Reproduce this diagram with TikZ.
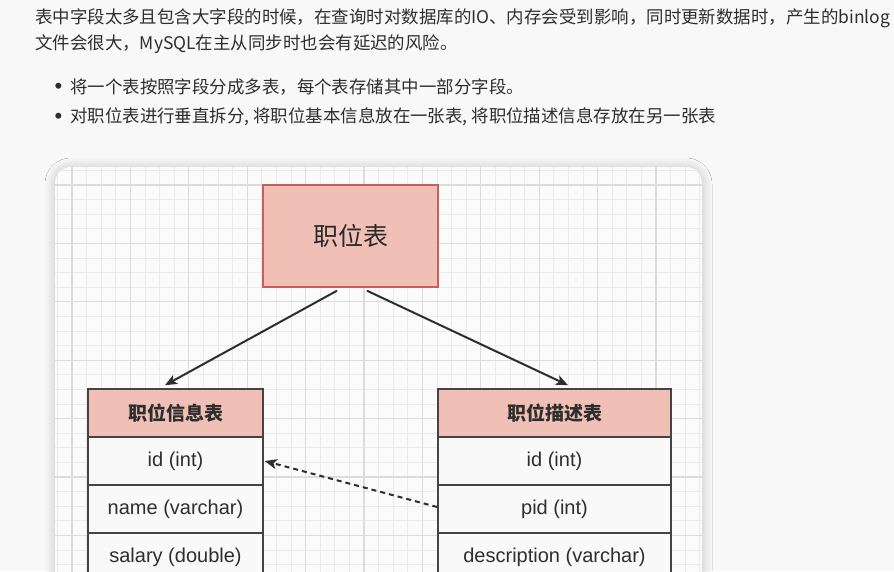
\documentclass[tikz,border=0pt]{standalone}
\usepackage{fontspec}
\setmainfont{Liberation Sans}
\newfontfamily\cjk{Noto Sans CJK SC}
\usetikzlibrary{shadows.blur,arrows.meta}
\definecolor{pagebg}{HTML}{F8F8F8}
\definecolor{panelbg}{HTML}{FBFBFB}
\definecolor{txt}{HTML}{2E2E2E}
\definecolor{pinkfill}{HTML}{F0C0B7}
\definecolor{pinkline}{HTML}{C8605A}
\definecolor{tblline}{HTML}{444444}
\definecolor{rowfill}{HTML}{F9F9F9}
\definecolor{gridminor}{HTML}{EBEBEB}
\definecolor{gridmajor}{HTML}{DCDCDC}
\tikzset{
  bodytext/.style={anchor=west, inner sep=0pt, text=txt, font=\cjk\fontsize{17.45}{20}\selectfont},
  bullettext/.style={anchor=center, inner sep=0pt, text=txt, font=\fontsize{22}{24}\selectfont},
  topbox/.style={draw=pinkline, fill=pinkfill, line width=1.4pt, minimum width=175pt, minimum height=102pt, inner sep=0pt, text=txt!90!black, font=\cjk\fontsize{25}{28}\selectfont},
  hdrcell/.style={draw=tblline, fill=pinkfill, line width=1.6pt, minimum height=48pt, inner sep=0pt, text=txt, font=\cjk\bfseries\fontsize{19}{22}\selectfont},
  rowcell/.style={draw=tblline, fill=rowfill, line width=1.6pt, minimum height=48pt, inner sep=0pt, text=txt, font=\fontsize{20}{24}\selectfont},
  leftw/.style={minimum width=175pt},
  rightw/.style={minimum width=233pt},
  conn/.style={draw=txt, line width=2pt, -{Stealth[length=12pt,width=10pt,inset=3pt]}},
  dconn/.style={conn, dash pattern=on 5pt off 4pt}
}
\begin{document}
\begin{tikzpicture}[x=1pt,y=-1pt]
\useasboundingbox[fill=pagebg] (0,0) rectangle (894,571);
% text
\node[bodytext] (l1) at (35,18) {表中字段太多且包含大字段的时候，在查询时对数据库的IO、内存会受到影响，同时更新数据时，产生的binlog};
\node[bodytext] (l2) at (35,44) {文件会很大，MySQL在主从同步时也会有延迟的风险。};
\node[bullettext] (b1) at (58.5,88) {•};
\node[bodytext] (t1) at (70,87) {将一个表按照字段分成多表，每个表存储其中一部分字段。};
\node[bullettext] (b2) at (58.5,118) {•};
\node[bodytext] (t2) at (70,117) {对职位表进行垂直拆分, 将职位基本信息放在一张表, 将职位描述信息存放在另一张表};
% panel
\path[fill=panelbg, rounded corners=16pt, blur shadow={shadow xshift=0pt, shadow yshift=-1pt, shadow blur radius=10pt, shadow opacity=22, shadow blur steps=12}] (55,167) rectangle (702,640);
\begin{scope}
\clip[rounded corners=16pt] (55,167) rectangle (702,640);
\foreach \i in {3,...,47} {\pgfmathsetmacro\xx{13.6+14.6*\i}\draw[gridminor, line width=0.9pt] (\xx,160) -- (\xx,580);}
\foreach \i in {11,...,40} {\pgfmathsetmacro\yy{9.8+14.6*\i}\draw[gridminor, line width=0.9pt] (50,\yy) -- (710,\yy);}
\foreach \i in {0,...,11} {\pgfmathsetmacro\xx{72+58.4*\i}\draw[gridmajor, line width=1.1pt] (\xx,160) -- (\xx,580);}
\foreach \i in {0,...,7} {\pgfmathsetmacro\yy{185+58.4*\i}\draw[gridmajor, line width=1.1pt] (50,\yy) -- (710,\yy);}
\end{scope}
% nodes
\node[topbox] (top) at (350.5,236) {职位表};
\node[hdrcell, leftw] (lh) at (175.5,413) {职位信息表};
\node[rowcell, leftw] (lid) at (175.5,461) {id (int)};
\node[rowcell, leftw] (lname) at (175.5,509) {name (varchar)};
\node[rowcell, leftw] (lsal) at (175.5,557) {salary (double)};
\node[hdrcell, rightw] (rh) at (554.5,413) {职位描述表};
\node[rowcell, rightw] (rid) at (554.5,461) {id (int)};
\node[rowcell, rightw] (rpid) at (554.5,509) {pid (int)};
\node[rowcell, rightw] (rdesc) at (554.5,557) {description (varchar)};
% connectors
\draw[conn] ([xshift=-13.5pt,yshift=-3pt]top.south) -- ([xshift=-10.5pt,yshift=3pt]lh.north);
\draw[conn] ([xshift=16.5pt,yshift=-3pt]top.south) -- ([xshift=13.5pt,yshift=3pt]rh.north);
\draw[dconn] ([yshift=2pt]rpid.west) -- ([xshift=1pt]lid.east);
\end{tikzpicture}
\end{document}
